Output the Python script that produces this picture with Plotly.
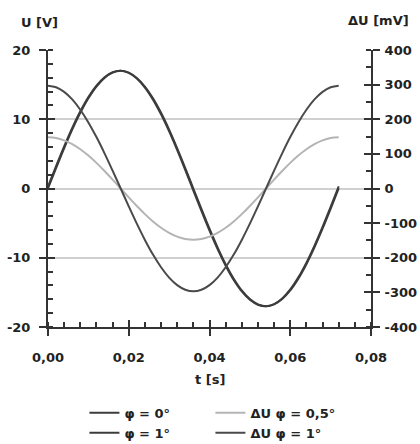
import plotly.graph_objects as go

# time samples [s]
t = [0.000, 0.002, 0.004, 0.006, 0.008, 0.010, 0.012, 0.014, 0.016, 0.018,
     0.020, 0.022, 0.024, 0.026, 0.028, 0.030, 0.032, 0.034, 0.036, 0.038,
     0.040, 0.042, 0.044, 0.046, 0.048, 0.050, 0.052, 0.054, 0.056, 0.058,
     0.060, 0.062, 0.064, 0.066, 0.068, 0.070, 0.072]

# U [V], phi = 0 deg
u_phi0 = [0.0, 2.95, 5.81, 8.5, 10.93, 13.02, 14.72, 15.97, 16.74, 17.0,
          16.74, 15.97, 14.72, 13.02, 10.93, 8.5, 5.81, 2.95, 0.0, -2.95,
          -5.81, -8.5, -10.93, -13.02, -14.72, -15.97, -16.74, -17.0, -16.74, -15.97,
          -14.72, -13.02, -10.93, -8.5, -5.81, -2.95, 0.0]

# U [V], phi = 1 deg
u_phi1 = [0.30, 3.24, 6.09, 8.76, 11.15, 13.21, 14.87, 16.07, 16.79, 17.0,
          16.69, 15.87, 14.57, 12.83, 10.70, 8.24, 5.53, 2.66, -0.30, -3.24,
          -6.09, -8.76, -11.15, -13.21, -14.87, -16.07, -16.79, -17.0, -16.69, -15.87,
          -14.57, -12.83, -10.70, -8.24, -5.53, -2.66, 0.30]

# dU [mV], phi = 0.5 deg
du_05 = [148, 145.8, 139.1, 128.2, 113.4, 95.1, 74.0, 50.6, 25.7, 0,
         -25.7, -50.6, -74.0, -95.1, -113.4, -128.2, -139.1, -145.8, -148, -145.8,
         -139.1, -128.2, -113.4, -95.1, -74.0, -50.6, -25.7, 0, 25.7, 50.6,
         74.0, 95.1, 113.4, 128.2, 139.1, 145.8, 148]

# dU [mV], phi = 1 deg
du_1 = [297, 292.5, 279.1, 257.2, 227.5, 190.9, 148.5, 101.6, 51.6, 0,
        -51.6, -101.6, -148.5, -190.9, -227.5, -257.2, -279.1, -292.5, -297, -292.5,
        -279.1, -257.2, -227.5, -190.9, -148.5, -101.6, -51.6, 0, 51.6, 101.6,
        148.5, 190.9, 227.5, 257.2, 279.1, 292.5, 297]

x_tickvals = [0.00, 0.02, 0.04, 0.06, 0.08]
x_ticktext = ["0,00", "0,02", "0,04", "0,06", "0,08"]
yl_tickvals = [-20, -10, 0, 10, 20]
yl_ticktext = ["-20", "-10", "0", "10", "20"]
yr_tickvals = [-400, -300, -200, -100, 0, 100, 200, 300, 400]
yr_ticktext = ["-400", "-300", "-200", "-100", "0", "100", "200", "300", "400"]

FONT = dict(family="DejaVu Sans", size=13, color="#222222", weight="bold")
AX = "#333333"
DARK = "#3c3c3c"
LIGHT = "#b4b4b4"

fig = go.Figure()
fig.add_trace(go.Scatter(x=t, y=u_phi0, name="φ = 0°", mode="lines",
                         line=dict(color=DARK, width=2, shape="spline"), yaxis="y"))
fig.add_trace(go.Scatter(x=t, y=du_05, name="ΔU φ = 0,5°", mode="lines",
                         line=dict(color=LIGHT, width=2, shape="spline"), yaxis="y2"))
fig.add_trace(go.Scatter(x=t, y=u_phi1, name="φ = 1°", mode="lines",
                         line=dict(color=DARK, width=2, shape="spline"), yaxis="y"))
fig.add_trace(go.Scatter(x=t, y=du_1, name="ΔU φ = 1°", mode="lines",
                         line=dict(color="#4a4a4a", width=2, shape="spline"), yaxis="y2"))
# empty helpers so the overlay tick axes are drawn
fig.add_trace(go.Scatter(x=[], y=[], xaxis="x2", yaxis="y3", showlegend=False, hoverinfo="skip"))
fig.add_trace(go.Scatter(x=[], y=[], xaxis="x2", yaxis="y4", showlegend=False, hoverinfo="skip"))

fig.update_layout(
    width=420, height=444,
    margin=dict(l=48, r=49, t=50, b=117, autoexpand=False),
    paper_bgcolor="white", plot_bgcolor="white",
    font=FONT,
    showlegend=True,
    xaxis=dict(range=[0, 0.08], tickvals=x_tickvals, ticktext=x_ticktext, automargin=False,
               showgrid=False, zeroline=False, showline=True, linecolor=AX, linewidth=2,
               ticks="outside", ticklen=7, tickwidth=2, tickcolor=AX, ticklabelstandoff=10,
               minor=dict(ticks="inside", ticklen=5, tickwidth=1.5, tickcolor=AX, dtick=0.004,
                          tick0=0, showgrid=False)),
    xaxis2=dict(range=[0, 0.08], overlaying="x", anchor="y", side="bottom", automargin=False,
                tickvals=x_tickvals, showticklabels=False, showgrid=False, zeroline=False,
                showline=False, ticks="inside", ticklen=7, tickwidth=2, tickcolor=AX),
    yaxis=dict(range=[-20, 20], tickvals=yl_tickvals, ticktext=yl_ticktext, automargin=False,
               showgrid=True, gridcolor="#d0d0d0", gridwidth=2, zeroline=False,
               showline=True, linecolor=AX, linewidth=2,
               ticks="outside", ticklen=7, tickwidth=2, tickcolor=AX, ticklabelstandoff=6,
               minor=dict(ticks="inside", ticklen=5, tickwidth=1.5, tickcolor=AX, dtick=2,
                          tick0=0, showgrid=False)),
    yaxis2=dict(range=[-400, 400], tickvals=yr_tickvals, ticktext=yr_ticktext,
                overlaying="y", side="right", anchor="x", automargin=False,
                showgrid=False, zeroline=False, showline=True, linecolor=AX, linewidth=2,
                ticks="outside", ticklen=7, tickwidth=2, tickcolor=AX, ticklabelstandoff=2,
                minor=dict(ticks="inside", ticklen=5, tickwidth=1.5, tickcolor=AX, dtick=50,
                           tick0=0, showgrid=False)),
    yaxis3=dict(range=[-20, 20], tickvals=yl_tickvals, overlaying="y", side="left", anchor="x2",
                showticklabels=False, showgrid=False, zeroline=False, showline=False,
                automargin=False, ticks="inside", ticklen=7, tickwidth=2, tickcolor=AX),
    yaxis4=dict(range=[-400, 400], tickvals=yr_tickvals, overlaying="y", side="right", anchor="x2",
                showticklabels=False, showgrid=False, zeroline=False, showline=False,
                automargin=False, ticks="inside", ticklen=7, tickwidth=2, tickcolor=AX),
    legend=dict(orientation="h", xref="container", yref="container",
                x=0.201, xanchor="left", y=0.104, yanchor="top",
                entrywidth=81, entrywidthmode="pixels", font=FONT,
                bgcolor="rgba(0,0,0,0)", itemclick=False),
    annotations=[
        dict(text="U [V]", xref="paper", yref="paper", x=-0.025, y=1.0975,
             xanchor="center", yanchor="middle", showarrow=False, font=FONT),
        dict(text="ΔU [mV]", xref="paper", yref="paper", x=1.124, y=1.1047,
             xanchor="right", yanchor="middle", showarrow=False, font=FONT),
        dict(text="t [s]", xref="paper", yref="paper", x=0.5, y=-0.191,
             xanchor="center", yanchor="middle", showarrow=False, font=FONT),
    ],
)

fig.write_html("out.html", config={"displayModeBar": False},
               post_script="document.body.style.margin='0';document.body.style.padding='0';")
